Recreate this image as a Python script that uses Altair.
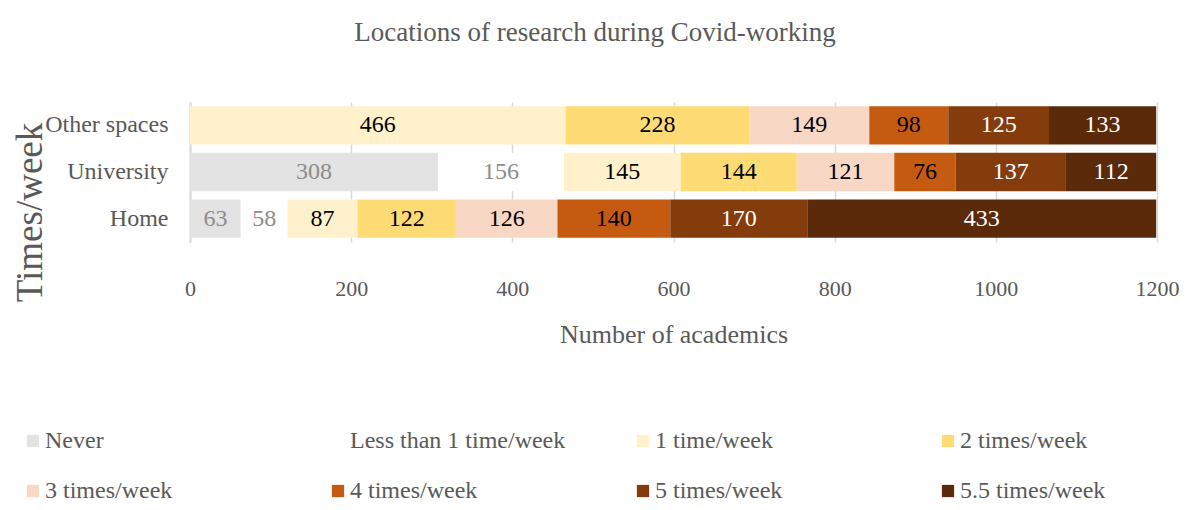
import altair as alt
import pandas as pd

locations = ["Other spaces", "University", "Home"]
categories = ["Never", "Less than 1 time/week", "1 time/week", "2 times/week",
              "3 times/week", "4 times/week", "5 times/week", "5.5 times/week"]
other_spaces = [0, 0, 466, 228, 149, 98, 125, 133]
university = [308, 156, 145, 144, 121, 76, 137, 112]
home = [63, 58, 87, 122, 126, 140, 170, 433]
colors = ["#E3E3E3", "#FFFFFF", "#FFF1CC", "#FFDB76", "#F8D7C5", "#C55A11", "#843C0C", "#5A2A0A"]
label_colors = ["#8C8C8C", "#8C8C8C", "#000000", "#000000", "#000000", "#000000", "#FFFFFF", "#FFFFFF"]

rows = []
for loc, vals in zip(locations, [other_spaces, university, home]):
    for i, (cat, v) in enumerate(zip(categories, vals)):
        rows.append({"location": loc, "category": cat, "idx": i, "value": v,
                     "lcolor": label_colors[i]})
df = pd.DataFrame(rows)

FONT = "Liberation Serif"
GREY = "#595959"

base = alt.Chart(df).transform_stack(
    stack="value", groupby=["location"], sort=[alt.SortField("idx", order="ascending")],
    as_=["x0", "x1"]
).transform_calculate(mid="(datum.x0 + datum.x1) / 2")

y_enc = alt.Y("location:N", sort=locations,
              scale=alt.Scale(paddingInner=0.18, paddingOuter=0.09),
              axis=alt.Axis(title="Times/week", titleFontSize=37, titleFont=FONT,
                            titleColor=GREY, titleFontWeight="normal",
                            titleAngle=270, titleX=-160, titleY=110,
                            titleAlign="center", titleBaseline="middle",
                            labelFont=FONT, labelFontSize=24, labelColor=GREY,
                            labelPadding=22, ticks=False, domain=True,
                            domainColor="#D9D9D9", domainWidth=2))

bars = base.mark_bar().encode(
    x=alt.X("x0:Q", scale=alt.Scale(domain=[0, 1200], nice=False),
            axis=alt.Axis(title="Number of academics", titleFont=FONT, titleFontSize=26,
                          titleColor=GREY, titleFontWeight="normal", titlePadding=22,
                          values=[0, 200, 400, 600, 800, 1000, 1200], format="d",
                          labelFont=FONT, labelFlush=False,
                          labelFontSize=22, labelColor=GREY, labelPadding=36,
                          ticks=False, domain=False, grid=True, gridColor="#D9D9D9",
                          gridWidth=1.5)),
    x2="x1:Q",
    y=y_enc,
    color=alt.Color("category:N", sort=categories,
                    scale=alt.Scale(domain=categories, range=colors),
                    legend=alt.Legend(title=None, orient="none", legendX=-169, legendY=327,
                                      direction="horizontal", columns=4, gridAlign="all",
                                      columnPadding=65, rowPadding=26,
                                      symbolType="square", symbolSize=150,
                                      symbolStrokeWidth=0, labelFont=FONT,
                                      labelFontSize=24, labelColor=GREY,
                                      labelOffset=0, labelLimit=400)),
    order=alt.Order("idx:Q"),
)

labels = base.transform_filter("datum.value > 0").mark_text(
    font=FONT, fontSize=24, baseline="middle", align="center"
).encode(
    x=alt.X("mid:Q"),
    y=alt.Y("location:N", sort=locations),
    text=alt.Text("value:Q"),
    color=alt.Color("lcolor:N", scale=None),
)

chart = alt.layer(bars, labels).properties(
    width=967, height=140,
    title=alt.TitleParams("Locations of research during Covid-working", font=FONT,
                          fontSize=27, color=GREY, fontWeight="normal",
                          anchor="middle", frame="bounds", offset=55),
    autosize=alt.AutoSizeParams(type="none"),
    padding={"left": 182, "top": 94, "right": 24, "bottom": 260},
).configure_view(stroke=None)

chart.save("out.html", embed_options={"renderer": "svg", "actions": False})
